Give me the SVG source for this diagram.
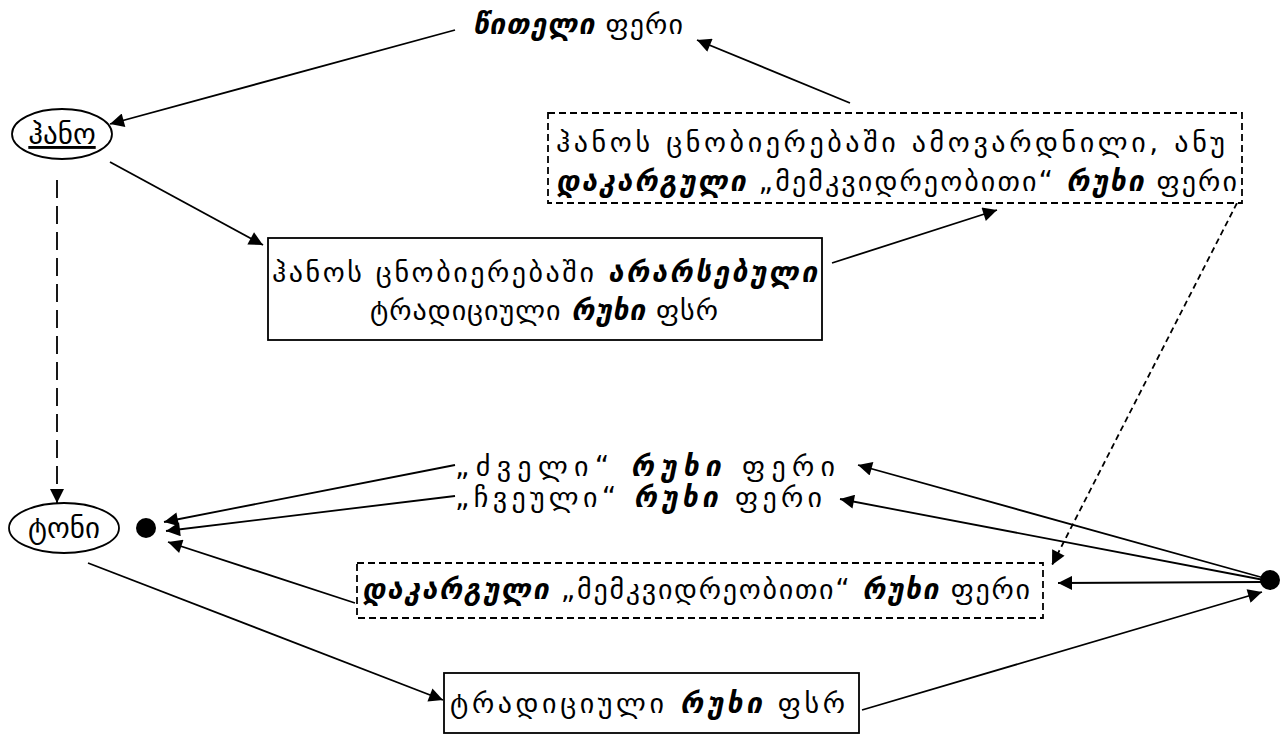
<svg xmlns="http://www.w3.org/2000/svg" width="1288" height="738" viewBox="0 0 1288 738">
<defs>
<marker id="ahb" viewBox="0 0 10 10" refX="10" refY="5" markerWidth="18" markerHeight="14" markerUnits="userSpaceOnUse" orient="auto">
<path d="M0,0 L10,5 L0,10 z" fill="#000"/>
</marker>
</defs>
<style>
text{font-family:"DejaVu Sans","DejaVu Serif",sans-serif;font-size:28px;fill:#000}
.b{font-weight:bold;font-style:italic}
.box{fill:#fff;stroke:#000;stroke-width:1.8}
.dbox{fill:#fff;stroke:#000;stroke-width:1.8;stroke-dasharray:7 4}
.ell{fill:#fff;stroke:#000;stroke-width:1.8}
.ln{fill:none;stroke:#000;stroke-width:1.8;marker-end:url(#ahb)}
</style>
<rect width="1288" height="738" fill="#fff"/>
<g id="connectors">
<line class="ln" x1="455" y1="30" x2="110" y2="124"/>
<line class="ln" x1="850" y1="103" x2="697" y2="40"/>
<line class="ln" x1="110" y1="162" x2="263" y2="245"/>
<line class="ln" x1="57" y1="180" x2="57" y2="503" style="stroke-dasharray:18 8"/>
<line class="ln" x1="832" y1="263" x2="997" y2="210"/>
<line class="ln" x1="1237" y1="203" x2="1052" y2="565" style="stroke-dasharray:6 4"/>
<line class="ln" x1="455" y1="465" x2="164" y2="522"/>
<line class="ln" x1="455" y1="496" x2="166" y2="531"/>
<line class="ln" x1="355" y1="603" x2="168" y2="542"/>
<line class="ln" x1="88" y1="563" x2="443" y2="700"/>
<line class="ln" x1="862" y1="710" x2="1262" y2="592"/>
<line class="ln" x1="1264" y1="578" x2="858" y2="465"/>
<line class="ln" x1="1264" y1="580" x2="840" y2="499"/>
<line class="ln" x1="1262" y1="582" x2="1058" y2="583"/>
</g>
<g id="red">
<text x="473" y="34" textLength="210" lengthAdjust="spacing"><tspan class="b">წითელი</tspan> ფერი</text>
</g>
<g id="hano">
<ellipse class="ell" cx="62" cy="134" rx="50" ry="25"/>
<text x="62" y="144" text-anchor="middle" text-decoration="underline" style="font-size:29px">ჰანო</text>
</g>
<g id="lost-top">
<rect class="dbox" x="548" y="113" width="694" height="90"/>
<text x="556" y="152" textLength="669" lengthAdjust="spacing">ჰანოს ცნობიერებაში ამოვარდნილი, ანუ</text>
<text x="556" y="191" textLength="681" lengthAdjust="spacing"><tspan class="b">დაკარგული</tspan> „მემკვიდრეობითი“ <tspan class="b">რუხი</tspan> ფერი</text>
</g>
<g id="absent">
<rect class="box" x="268" y="238" width="554" height="102"/>
<text x="272" y="282" textLength="545" lengthAdjust="spacing">ჰანოს ცნობიერებაში <tspan class="b">არარსებული</tspan></text>
<text x="370" y="320" textLength="348" lengthAdjust="spacing">ტრადიციული <tspan class="b">რუხი</tspan> ფსრ</text>
</g>
<g id="old">
<text x="455" y="476" textLength="380" lengthAdjust="spacing">„ძველი“ <tspan class="b">რუხი</tspan> ფერი</text>
</g>
<g id="usual">
<text x="455" y="507" textLength="367" lengthAdjust="spacing">„ჩვეული“ <tspan class="b">რუხი</tspan> ფერი</text>
</g>
<g id="toni">
<ellipse class="ell" cx="64" cy="528" rx="55" ry="25"/>
<text x="64" y="538" text-anchor="middle" style="font-size:29px">ტონი</text>
</g>
<g id="dot-left"><circle cx="146" cy="528" r="10" fill="#000"/></g>
<g id="dot-right"><circle cx="1270" cy="580" r="10" fill="#000"/></g>
<g id="lost-bottom">
<rect class="dbox" x="357" y="563" width="686" height="55"/>
<text x="362" y="599" textLength="668" lengthAdjust="spacing"><tspan class="b">დაკარგული</tspan> „მემკვიდრეობითი“ <tspan class="b">რუხი</tspan> ფერი</text>
</g>
<g id="traditional">
<rect class="box" x="444" y="673" width="415" height="60"/>
<text x="450" y="713" textLength="395" lengthAdjust="spacing">ტრადიციული <tspan class="b">რუხი</tspan> ფსრ</text>
</g>
</svg>
